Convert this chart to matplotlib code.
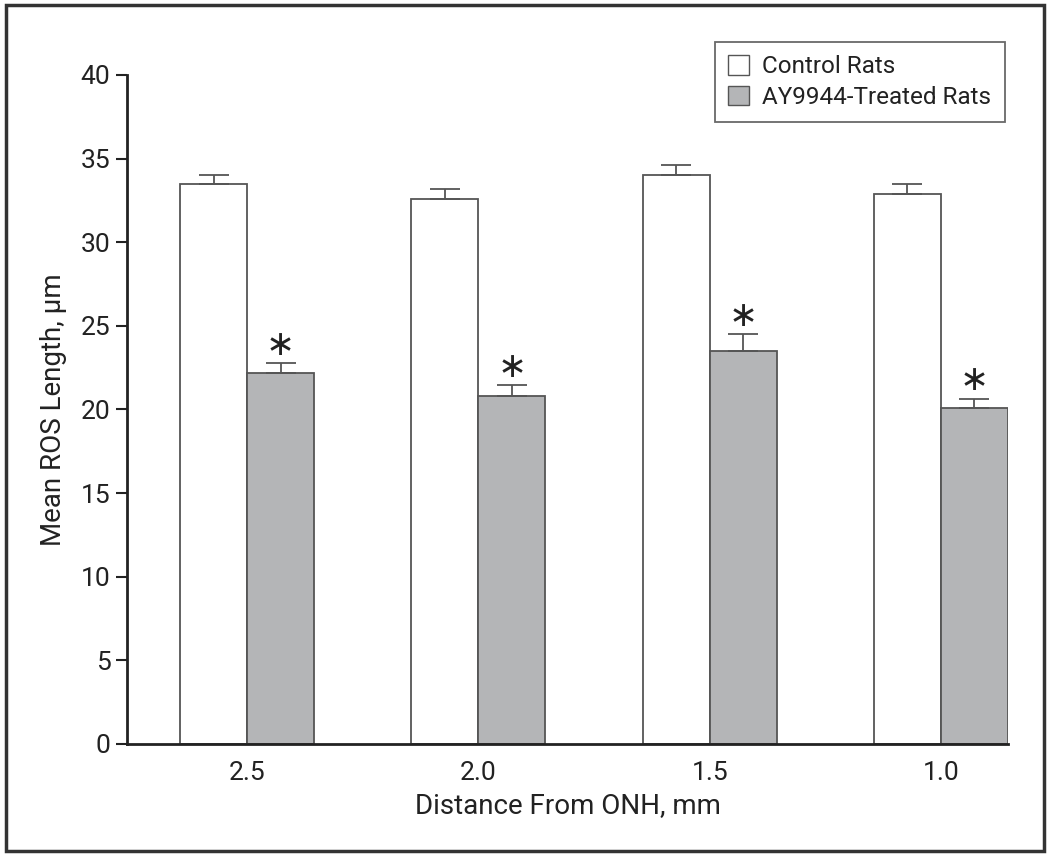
import matplotlib
matplotlib.use("Agg")
import matplotlib.pyplot as plt
from matplotlib.patches import Rectangle, Patch
import numpy as np

plt.rcParams['font.family'] = ['Roboto', 'DejaVu Sans']

categories = ["2.5", "2.0", "1.5", "1.0"]
control = [33.5, 32.6, 34.0, 32.9]
control_err = [0.5, 0.6, 0.6, 0.6]
treated = [22.2, 20.8, 23.5, 20.1]
treated_err = [0.55, 0.65, 1.0, 0.55]
series_names = ["Control Rats", "AY9944-Treated Rats"]

fig = plt.figure(figsize=(10.5, 8.57), dpi=100)
ax = fig.add_axes([0.121, 0.1319, 0.839, 0.7806])

x = np.arange(len(categories))
w = 0.29
edge = '#555555'
ax.bar(x - w/2, control, w, color='white', edgecolor=edge, linewidth=1.3, zorder=2)
ax.bar(x + w/2, treated, w, color='#b4b5b7', edgecolor=edge, linewidth=1.3, zorder=2)

ax.errorbar(x - w/2, control, yerr=[np.zeros(4), control_err], fmt='none',
            ecolor=edge, elinewidth=1.3, capsize=11, capthick=1.3, zorder=3)
ax.errorbar(x + w/2, treated, yerr=[np.zeros(4), treated_err], fmt='none',
            ecolor=edge, elinewidth=1.3, capsize=11, capthick=1.3, zorder=3)

for xi, v, e in zip(x + w/2, treated, treated_err):
    ax.text(xi, v + e + 1.1, '\u2217', ha='center', va='center', fontsize=25,
            family='DejaVu Sans', color='#222222')

ax.set_xlim(-0.519, 3 + w)
ax.set_ylim(0, 40)
ax.set_yticks(np.arange(0, 41, 5))
ax.set_xticks(x)
ax.set_xticklabels(categories)
ax.tick_params(axis='x', length=0, pad=12, labelsize=19, colors='#222222')
ax.tick_params(axis='y', length=8, width=1.5, pad=4, labelsize=19, colors='#222222')
for s in ['top', 'right']:
    ax.spines[s].set_visible(False)
for s in ['left', 'bottom']:
    ax.spines[s].set_linewidth(2)
    ax.spines[s].set_color('#222222')

ax.set_xlabel('Distance From ONH, mm', fontsize=20, color='#222222', labelpad=5)
ax.set_ylabel('Mean ROS Length, µm', fontsize=20, color='#222222', labelpad=10)

handles = [Patch(facecolor='white', edgecolor=edge, linewidth=1),
           Patch(facecolor='#b4b5b7', edgecolor=edge, linewidth=1)]
leg = fig.legend(handles, series_names, loc='upper right',
                 bbox_to_anchor=(0.957, 0.951), borderaxespad=0,
                 fontsize=17.5, frameon=True,
                 fancybox=False, edgecolor='#444444', handlelength=0.85,
                 handleheight=0.85, handletextpad=0.55, borderpad=0.55,
                 labelspacing=0.3)
leg.get_frame().set_linewidth(1.3)
for t in leg.get_texts():
    t.set_color('#222222')

fig.patches.append(Rectangle((0.006, 0.007), 0.988, 0.987, transform=fig.transFigure,
                             fill=False, edgecolor='#333333', linewidth=2.5))

fig.savefig('out.png', dpi=100, facecolor='white')
